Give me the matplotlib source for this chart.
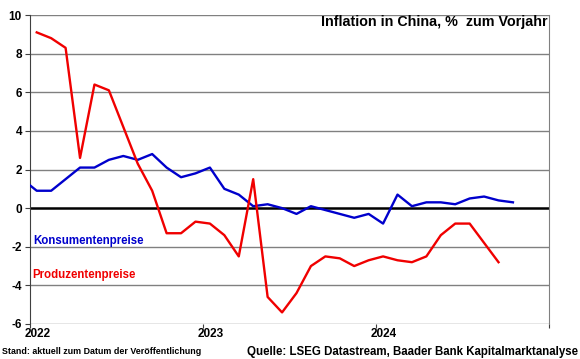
import numpy as np
import matplotlib
matplotlib.use("Agg")
from matplotlib import pyplot as plt

# monthly values, % vs. previous year
# consumer prices start Dec 2021, producer prices start Jan 2022
cpi = [1.5,
       0.9, 0.9, 1.5, 2.1, 2.1, 2.5, 2.7, 2.5, 2.8, 2.1, 1.6, 1.8,
       2.1, 1.0, 0.7, 0.1, 0.2, 0.0, -0.3, 0.1, -0.1, -0.3, -0.5, -0.3,
       -0.8, 0.7, 0.1, 0.3, 0.3, 0.2, 0.5, 0.6, 0.4, 0.3]
ppi = [9.1, 8.8, 8.3, 2.6, 6.4, 6.1, 4.2, 2.3, 0.9, -1.3, -1.3, -0.7,
       -0.8, -1.4, -2.5, 1.5, -4.6, -5.4, -4.4, -3.0, -2.5, -2.6, -3.0, -2.7,
       -2.5, -2.7, -2.8, -2.5, -1.4, -0.8, -0.8, -1.8, -2.8]
years = [2022, 2023, 2024, 2025]
year_labels = ["2022", "2023", "2024"]

x_cpi = 2022 + (np.arange(len(cpi)) - 1 + 0.5) / 12
x_ppi = 2022 + (np.arange(len(ppi)) + 0.5) / 12

plt.rcParams['font.family'] = ['Liberation Sans', 'DejaVu Sans']
plt.rcParams['axes.unicode_minus'] = False

fig = plt.figure(figsize=(5.8, 3.59), dpi=100)
ax = fig.add_axes([0.0509, 0.0975, 0.8957, 0.8607])

for v in [-6, -4, -2, 2, 4, 6, 8, 10]:
    ax.axhline(v, color='#808080', lw=1.0, zorder=1)
ax.axhline(0, color='black', lw=1.8, zorder=2)

ax.plot(x_cpi, cpi, color='#0000cc', lw=1.7, zorder=3)
ax.plot(x_ppi, ppi, color='#f00000', lw=1.7, zorder=3)

ax.set_xlim(2022, 2025)
ax.set_ylim(-6, 10)

for s in ['top', 'bottom']:
    ax.spines[s].set_visible(False)
ax.spines['left'].set_color('#404040')
ax.spines['right'].set_color('#808080')

ax.set_yticks(range(-6, 11, 2))
ax.set_yticklabels([str(v) for v in range(-6, 11, 2)], fontsize=8.5, fontweight='bold')
ax.tick_params(axis='y', length=3.5, width=0.8, color='#404040', pad=2)

ax.set_xticks(years)
ax.set_xticklabels([])
ax.set_xticks([y + 0.045 for y in years[:3]], minor=True)
ax.set_xticklabels(year_labels, minor=True, fontsize=8.5, fontweight='bold')
ax.tick_params(axis='x', which='major', length=3, width=0.8, color='#404040')
ax.tick_params(axis='x', which='minor', length=0, pad=3)

ax.text(0.997, 0.977, "Inflation in China, %  zum Vorjahr", transform=ax.transAxes,
        ha='right', va='center', fontsize=10.3, fontweight='bold')
ax.text(0.007, 0.27, "Konsumentenpreise", transform=ax.transAxes,
        ha='left', va='center', fontsize=8.3, fontweight='bold', color='#0000cc')
ax.text(0.005, 0.158, "Produzentenpreise", transform=ax.transAxes,
        ha='left', va='center', fontsize=8.3, fontweight='bold', color='#f00000')

fig.text(2 / 580, 1 - 352 / 359, "Stand: aktuell zum Datum der Veröffentlichung",
         ha='left', va='center', fontsize=6.4, fontweight='bold')
fig.text(578 / 580, 1 - 352 / 359, "Quelle: LSEG Datastream, Baader Bank Kapitalmarktanalyse",
         ha='right', va='center', fontsize=8.3, fontweight='bold')

fig.savefig("out.png", dpi=100)
